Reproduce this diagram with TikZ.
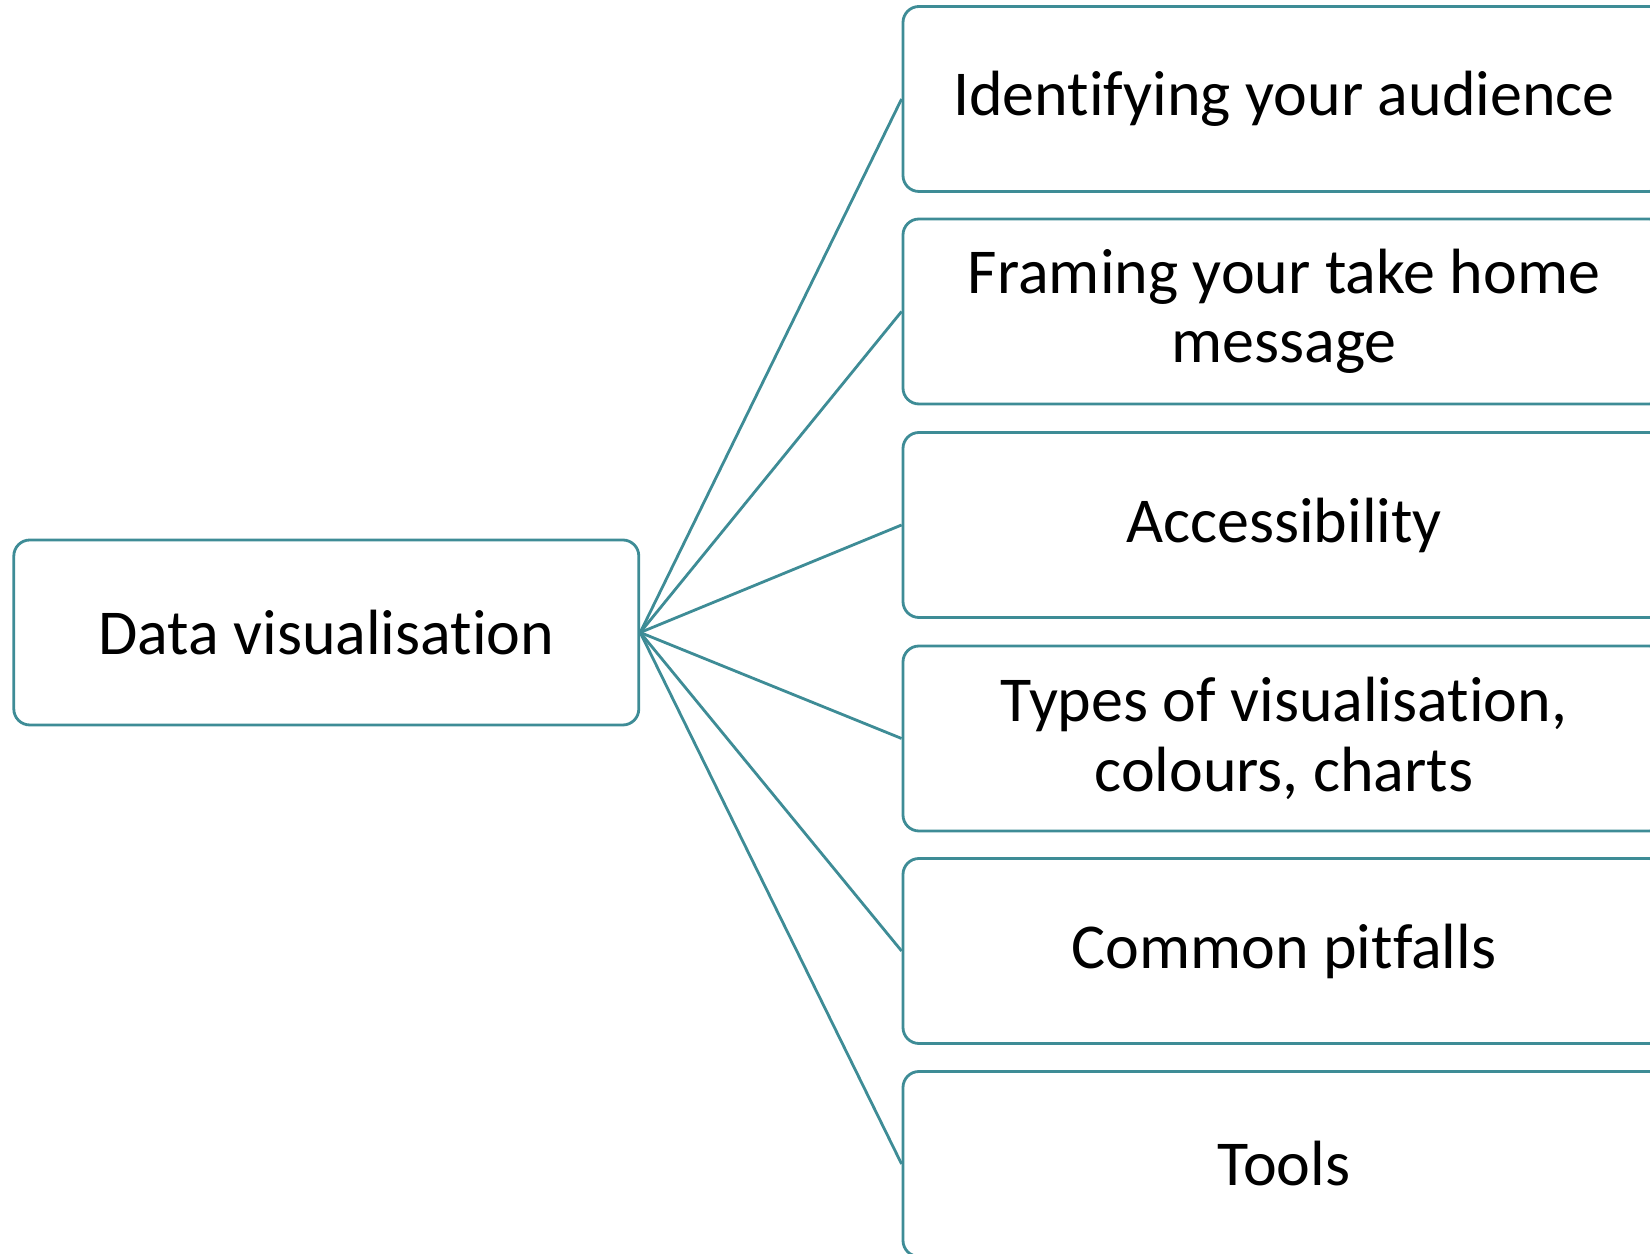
\documentclass[tikz,border=0pt]{standalone}
\usepackage{fontspec}
\setmainfont[Ligatures=NoCommon]{Carlito}
\usepackage{tikz}
\usetikzlibrary{positioning}
\definecolor{topicteal}{RGB}{62,140,150}

\tikzset{
  topic/.style={draw=topicteal, line width=0.8pt, rounded corners=1.6mm,
    fill=white, align=center, inner sep=0pt,
    font=\fontsize{18.2}{19.8}\selectfont},
  hub/.style={topic, minimum width=6.25cm, minimum height=1.85cm},
  leaf/.style={topic, minimum width=7.62cm, minimum height=1.85cm},
  spoke/.style={draw=topicteal, line width=0.8pt}
}

\begin{document}
\begin{tikzpicture}
    \useasboundingbox (0,0) rectangle (16.5,-12.54);
    \clip (0,0) rectangle (16.5,-12.54);

    \node[hub] (D) at (3.263,-6.325) {Data visualisation};

    \node[leaf] (L1) at (12.84,-0.99) {Identifying your audience};
    \node[leaf] (L2) at (12.84,-3.115) {Framing your take home\\message};
    \node[leaf] (L3) at (12.84,-5.25) {Accessibility};
    \node[leaf] (L4) at (12.84,-7.385) {Types of visualisation,\\colours, charts};
    \node[leaf] (L5) at (12.84,-9.51) {Common pitfalls};
    \node[leaf] (L6) at (12.84,-11.64) {Tools};

    % one spoke per topic
    \draw[spoke] (D.east) -- (L1.west);
    \draw[spoke] (D.east) -- (L2.west);
    \draw[spoke] (D.east) -- (L3.west);
    \draw[spoke] (D.east) -- (L4.west);
    \draw[spoke] (D.east) -- (L5.west);
    \draw[spoke] (D.east) -- (L6.west);

\end{tikzpicture}
\end{document}
